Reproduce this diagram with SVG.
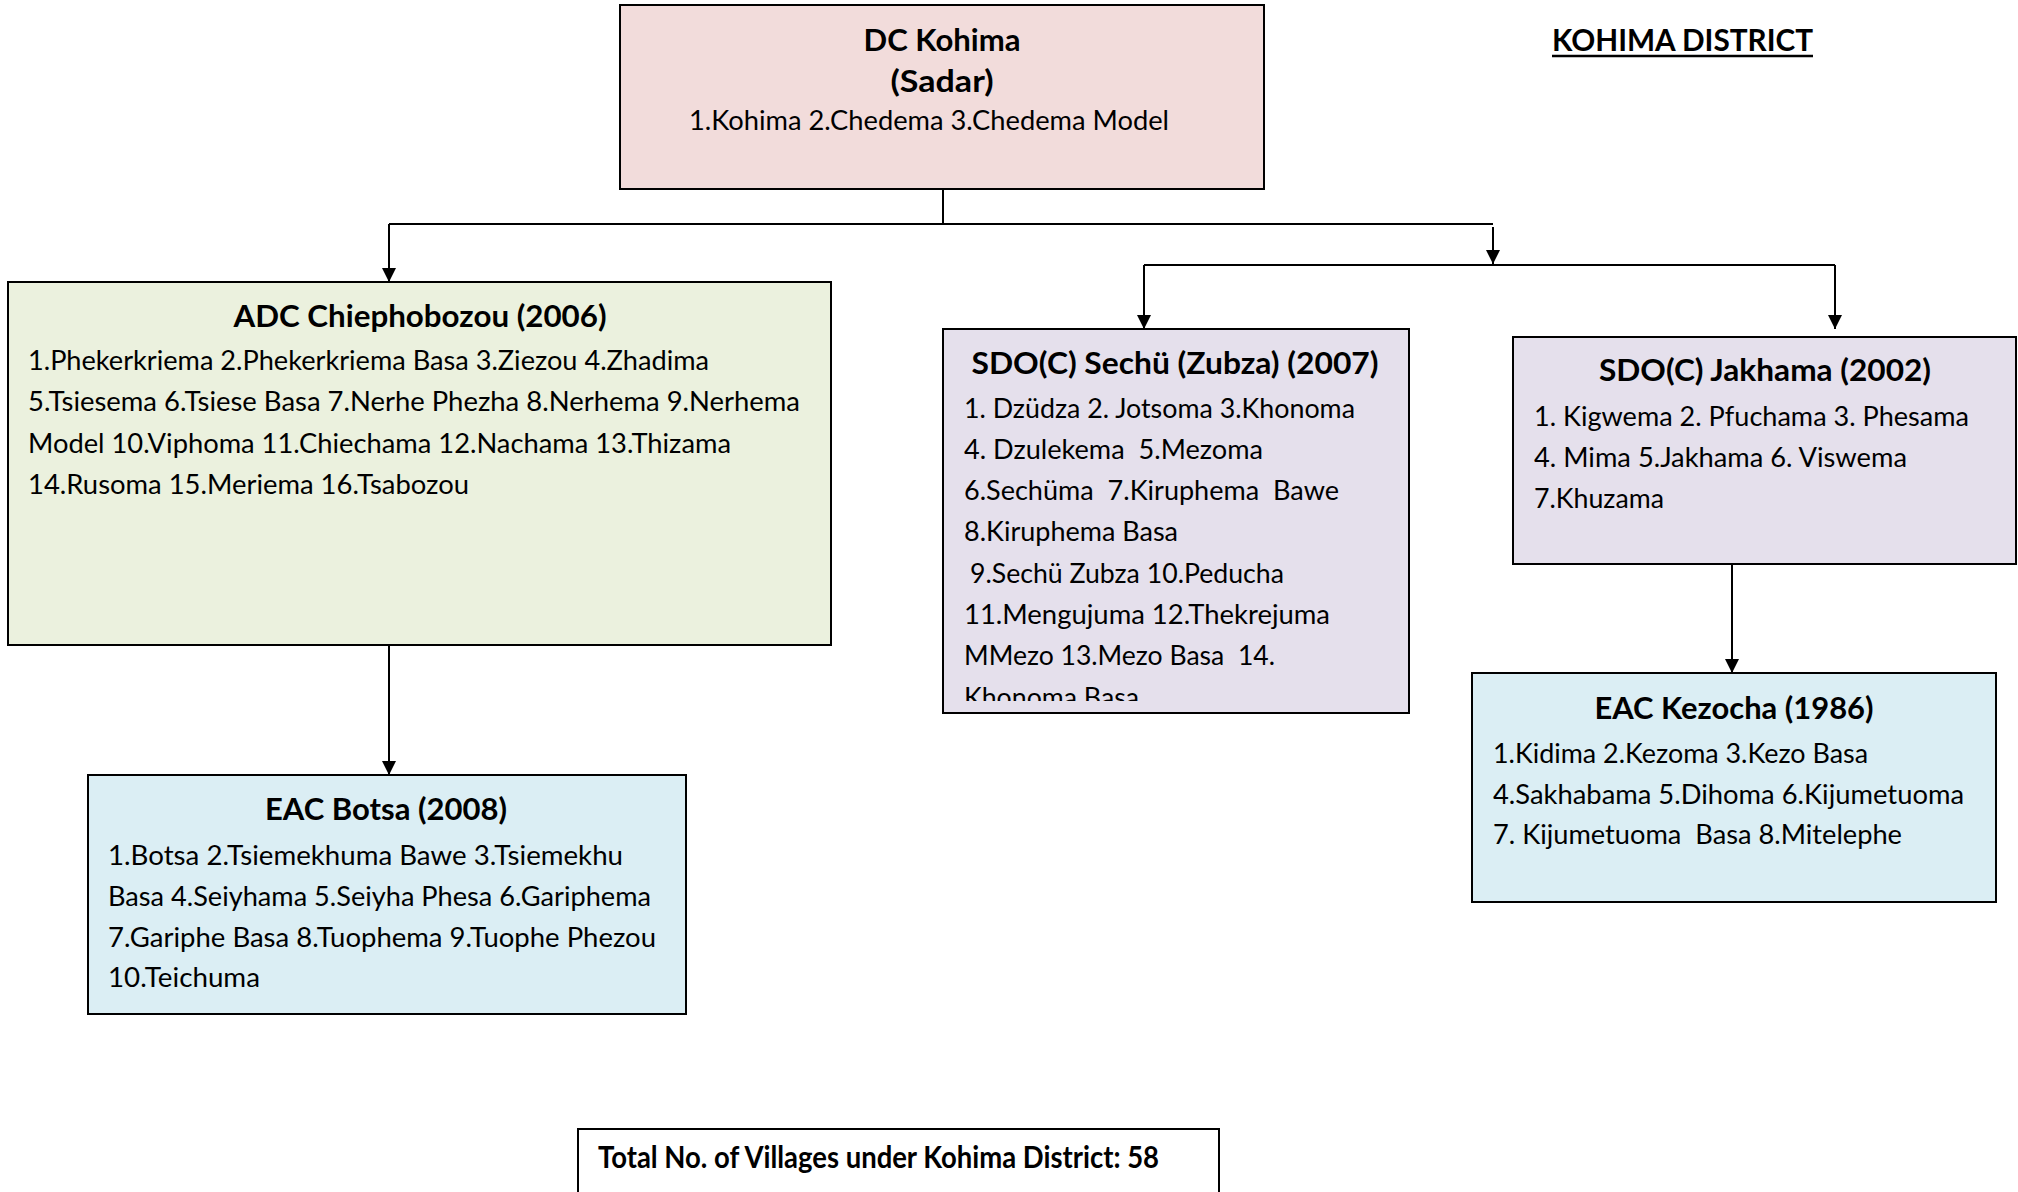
<svg xmlns="http://www.w3.org/2000/svg" width="2018" height="1192" viewBox="0 0 2018 1192">
<defs>
<marker id="ah" markerWidth="14" markerHeight="14" viewBox="0 0 14 14" refX="14" refY="7" orient="auto" markerUnits="userSpaceOnUse">
<path d="M0,0 L14,7 L0,14 Z" fill="#000"/>
</marker>
<clipPath id="sechuClip"><rect x="943" y="329" width="466" height="372"/></clipPath>
</defs>
<style>
.box{stroke:#000;stroke-width:2}
.t{font-family:Lato,"Open Sans",sans-serif;font-weight:bold;font-size:30px;fill:#000}
.b{font-family:Lato,"Open Sans",sans-serif;font-size:26px;fill:#000}
.c{fill:none;stroke:#000;stroke-width:2}
</style>
<rect width="2018" height="1192" fill="#fff"/>

<g id="title">
<text class="t" x="1552" y="51" font-size="31" textLength="261" lengthAdjust="spacingAndGlyphs">KOHIMA DISTRICT</text>
<line x1="1552" y1="56" x2="1813" y2="56" stroke="#000" stroke-width="2.5"/>
</g>

<g id="connectors">
<path class="c" d="M943,189 V224 M389,224 H1493"/>
<path class="c" d="M389,224 V282" marker-end="url(#ah)"/>
<path class="c" d="M1493,227 V264" marker-end="url(#ah)"/>
<path class="c" d="M1144,265 H1835"/>
<path class="c" d="M1144,265 V329" marker-end="url(#ah)"/>
<path class="c" d="M1835,265 V329" marker-end="url(#ah)"/>
<path class="c" d="M389,645 V775" marker-end="url(#ah)"/>
<path class="c" d="M1732,564 V673" marker-end="url(#ah)"/>
</g>

<g id="dc">
<rect class="box" x="620" y="5" width="644" height="184" fill="#f2dcdb"/>
<text class="t" x="942" y="51" text-anchor="middle" textLength="157" lengthAdjust="spacingAndGlyphs">DC Kohima</text>
<text class="t" x="942" y="92" text-anchor="middle" textLength="103" lengthAdjust="spacingAndGlyphs">(Sadar)</text>
<text class="b" x="689" y="130" textLength="480" lengthAdjust="spacingAndGlyphs">1.Kohima 2.Chedema 3.Chedema Model</text>
</g>

<g id="adc">
<rect class="box" x="8" y="282" width="823" height="363" fill="#ebf1de"/>
<text class="t" x="420" y="327" text-anchor="middle" textLength="373" lengthAdjust="spacingAndGlyphs">ADC Chiephobozou (2006)</text>
<text class="b" x="28" y="370" textLength="681" lengthAdjust="spacingAndGlyphs">1.Phekerkriema 2.Phekerkriema Basa 3.Ziezou 4.Zhadima</text>
<text class="b" x="28" y="411" textLength="772" lengthAdjust="spacingAndGlyphs">5.Tsiesema 6.Tsiese Basa 7.Nerhe Phezha 8.Nerhema 9.Nerhema</text>
<text class="b" x="28" y="453" textLength="703" lengthAdjust="spacingAndGlyphs">Model 10.Viphoma 11.Chiechama 12.Nachama 13.Thizama</text>
<text class="b" x="28" y="494" textLength="441" lengthAdjust="spacingAndGlyphs">14.Rusoma 15.Meriema 16.Tsabozou</text>
</g>

<g id="eac-botsa">
<rect class="box" x="88" y="775" width="598" height="239" fill="#dbeef4"/>
<text class="t" x="386" y="820" text-anchor="middle" textLength="242" lengthAdjust="spacingAndGlyphs">EAC Botsa (2008)</text>
<text class="b" x="108" y="865" textLength="515" lengthAdjust="spacingAndGlyphs">1.Botsa 2.Tsiemekhuma Bawe 3.Tsiemekhu</text>
<text class="b" x="108" y="906" textLength="543" lengthAdjust="spacingAndGlyphs">Basa 4.Seiyhama 5.Seiyha Phesa 6.Gariphema</text>
<text class="b" x="108" y="947" textLength="548" lengthAdjust="spacingAndGlyphs">7.Gariphe Basa 8.Tuophema 9.Tuophe Phezou</text>
<text class="b" x="108" y="987" textLength="152" lengthAdjust="spacingAndGlyphs">10.Teichuma</text>
</g>

<g id="sdo-sechu">
<rect class="box" x="943" y="329" width="466" height="384" fill="#e5e0ec"/>
<text class="t" x="1175" y="374" text-anchor="middle" textLength="407" lengthAdjust="spacingAndGlyphs">SDO(C) Sechü (Zubza) (2007)</text>
<g clip-path="url(#sechuClip)">
<text class="b" x="964" y="418" textLength="391" lengthAdjust="spacingAndGlyphs" xml:space="preserve">1. Dzüdza 2. Jotsoma 3.Khonoma</text>
<text class="b" x="964" y="459" textLength="299" lengthAdjust="spacingAndGlyphs" xml:space="preserve">4. Dzulekema  5.Mezoma</text>
<text class="b" x="964" y="500" textLength="375" lengthAdjust="spacingAndGlyphs" xml:space="preserve">6.Sechüma  7.Kiruphema  Bawe</text>
<text class="b" x="964" y="541" textLength="214" lengthAdjust="spacingAndGlyphs">8.Kiruphema Basa</text>
<text class="b" x="970" y="583" textLength="314" lengthAdjust="spacingAndGlyphs">9.Sechü Zubza 10.Peducha</text>
<text class="b" x="964" y="624" textLength="366" lengthAdjust="spacingAndGlyphs">11.Mengujuma 12.Thekrejuma</text>
<text class="b" x="964" y="665" textLength="311" lengthAdjust="spacingAndGlyphs" xml:space="preserve">MMezo 13.Mezo Basa  14.</text>
<text class="b" x="964" y="707" textLength="175" lengthAdjust="spacingAndGlyphs">Khonoma Basa</text>
</g>
</g>

<g id="sdo-jakhama">
<rect class="box" x="1513" y="337" width="503" height="227" fill="#e5e0ec"/>
<text class="t" x="1765" y="381" text-anchor="middle" textLength="332" lengthAdjust="spacingAndGlyphs">SDO(C) Jakhama (2002)</text>
<text class="b" x="1534" y="426" textLength="435" lengthAdjust="spacingAndGlyphs">1. Kigwema 2. Pfuchama 3. Phesama</text>
<text class="b" x="1534" y="467" textLength="373" lengthAdjust="spacingAndGlyphs">4. Mima 5.Jakhama 6. Viswema</text>
<text class="b" x="1534" y="508" textLength="130" lengthAdjust="spacingAndGlyphs">7.Khuzama</text>
</g>

<g id="eac-kezocha">
<rect class="box" x="1472" y="673" width="524" height="229" fill="#dbeef4"/>
<text class="t" x="1734" y="719" text-anchor="middle" textLength="279" lengthAdjust="spacingAndGlyphs">EAC Kezocha (1986)</text>
<text class="b" x="1493" y="763" textLength="375" lengthAdjust="spacingAndGlyphs">1.Kidima 2.Kezoma 3.Kezo Basa</text>
<text class="b" x="1493" y="804" textLength="471" lengthAdjust="spacingAndGlyphs">4.Sakhabama 5.Dihoma 6.Kijumetuoma</text>
<text class="b" x="1493" y="844" textLength="409" lengthAdjust="spacingAndGlyphs" xml:space="preserve">7. Kijumetuoma  Basa 8.Mitelephe</text>
</g>

<g id="total">
<rect class="box" x="578" y="1129" width="641" height="70" fill="#fff"/>
<text class="t" x="598" y="1168" font-size="26" textLength="561" lengthAdjust="spacingAndGlyphs">Total No. of Villages under Kohima District: 58</text>
</g>
</svg>
